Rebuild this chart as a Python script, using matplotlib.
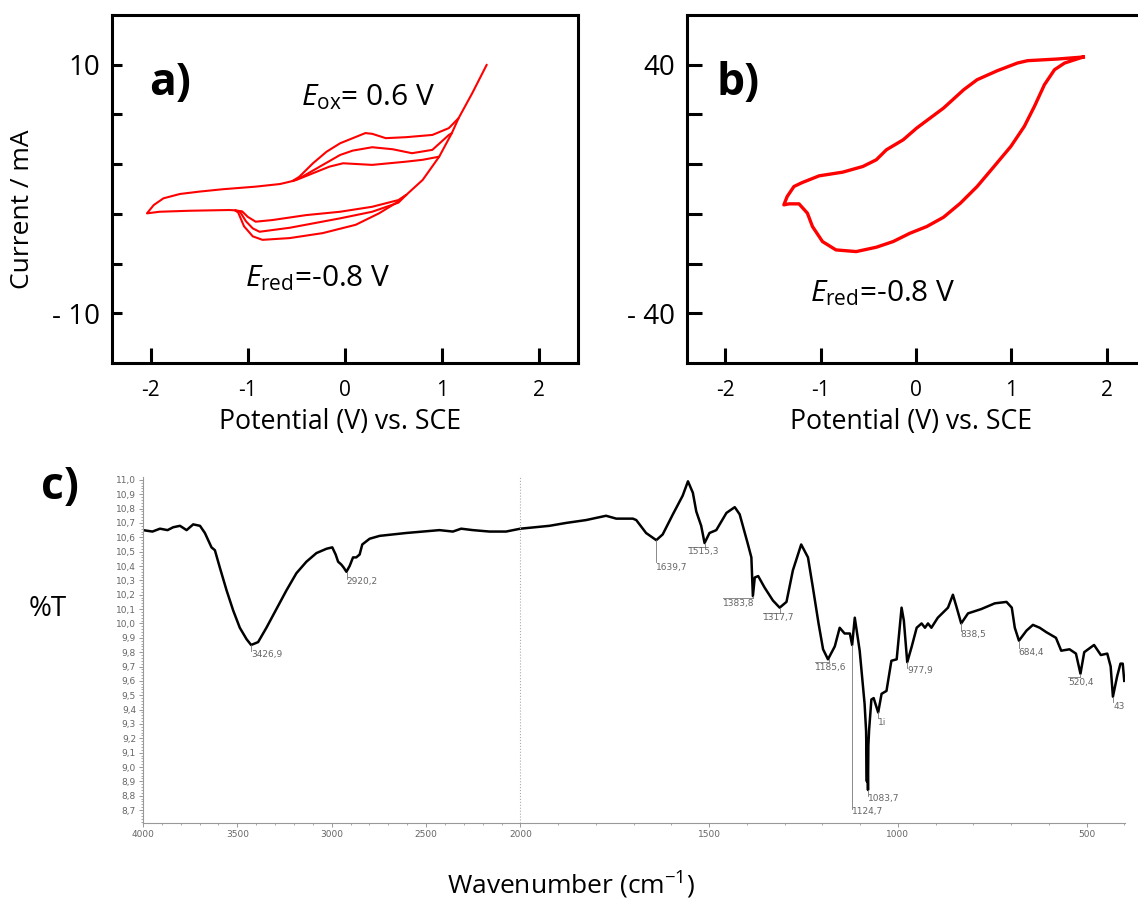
import matplotlib
matplotlib.use('Agg')
import matplotlib.pyplot as plt
import numpy as np
from matplotlib.ticker import FixedLocator

plt.rcParams['font.family'] = ['Open Sans', 'DejaVu Sans']
plt.rcParams['mathtext.fontset'] = 'custom'
plt.rcParams['mathtext.rm'] = 'Open Sans'
plt.rcParams['mathtext.it'] = 'Open Sans:italic'

# --- panel a: CV, three cycles (V, mA) ---
right_v = [0.63, 0.80, 0.97, 1.10, 1.17, 1.31, 1.46]
right_i = [-0.48, 0.73, 2.6, 4.49, 5.7, 7.7, 10.0]
up1_v = [1.17, 1.07, 0.90, 0.63, 0.42, 0.28, 0.21, 0.08, -0.05, -0.19, -0.33, -0.47, -0.54]
up1_i = [5.7, 4.9, 4.35, 4.17, 4.09, 4.44, 4.5, 4.09, 3.68, 3.0, 2.07, 0.99, 0.64]
up2_v = [1.10, 1.07, 0.90, 0.69, 0.49, 0.28, 0.08, -0.05, -0.26, -0.44, -0.54]
up2_i = [4.49, 4.35, 3.15, 2.88, 3.2, 3.36, 3.09, 2.74, 1.80, 0.99, 0.64]
up3_v = [0.97, 0.80, 0.63, 0.28, -0.02, -0.16, -0.33, -0.50, -0.54]
up3_i = [2.6, 2.35, 2.2, 1.94, 2.07, 1.80, 1.27, 0.73, 0.64]
left_v = [-0.54, -0.67, -0.92, -1.26, -1.50, -1.70, -1.87, -1.97, -2.04, -1.91, -1.60, -1.19, -1.13]
left_i = [0.64, 0.40, 0.19, -0.02, -0.21, -0.40, -0.75, -1.29, -1.96, -1.83, -1.75, -1.69, -1.72]
low1_v = [-1.13, -1.06, -1.00, -0.92, -0.75, -0.40, -0.05, 0.28, 0.55, 0.63]
low1_i = [-1.72, -1.80, -2.25, -2.63, -2.5, -2.1, -1.83, -1.43, -0.89, -0.48]
low2_v = [-1.13, -1.08, -1.02, -0.95, -0.88, -0.57, -0.05, 0.28, 0.55, 0.63]
low2_i = [-1.72, -1.85, -2.6, -3.17, -3.44, -3.12, -2.36, -1.83, -1.1, -0.48]
low3_v = [-1.13, -1.10, -1.04, -0.95, -0.85, -0.57, -0.23, 0.11, 0.35, 0.52, 0.63]
low3_i = [-1.72, -1.9, -3.0, -3.81, -4.09, -3.95, -3.55, -2.88, -1.96, -1.15, -0.48]

# --- panel b: CV, one cycle (V, mA) ---
b_v = [1.752, 1.487, 1.170, 1.064, 0.853, 0.641, 0.500, 0.289, 0.148, 0.007, -0.134, -0.310,
       -0.416, -0.557, -0.768, -1.015, -1.191, -1.279, -1.350, -1.385, -1.332, -1.226, -1.138,
       -1.085, -0.980, -0.839, -0.627, -0.416, -0.240, -0.063, 0.113, 0.289, 0.465, 0.641,
       0.818, 0.994, 1.135, 1.241, 1.346, 1.452, 1.558, 1.752]
b_i = [42.48, 41.84, 41.30, 40.55, 38.08, 35.18, 31.95, 26.05, 22.83, 19.60, 15.84, 12.62,
       9.40, 7.25, 5.42, 4.24, 2.09, 0.81, -2.42, -5.10, -4.78, -4.78, -7.79,
       -12.08, -16.92, -19.60, -20.14, -18.74, -16.92, -14.23, -12.08, -9.08, -4.57, 0.81,
       7.25, 13.70, 20.14, 26.58, 33.57, 38.40, 40.55, 42.48]

cv_xticks = [-2, -1, 0, 1, 2]
cv_xlabels = ['-2', '-1', '0', '1', '2']
a_yticks = [-10, -6, -2, 2, 6, 10]
a_ylabels = ['- 10', '', '', '', '', '10']
b_yticks = [-40, -24, -8, 8, 24, 40]
b_ylabels = ['- 40', '', '', '', '', '40']

# --- panel c: IR spectrum ---
ir_wn = [4000, 3950, 3910, 3870, 3840, 3804, 3769, 3734, 3698, 3672, 3637, 3619, 3593, 3557,
         3522, 3487, 3451, 3427, 3390, 3346, 3293, 3240, 3187, 3134, 3081, 3028, 2997, 2979,
         2966, 2949, 2937, 2922, 2905, 2887, 2870, 2852, 2838, 2799, 2746, 2605, 2517, 2429,
         2358, 2314, 2252, 2164, 2076, 2000, 1923, 1879, 1826, 1773, 1746, 1702, 1693, 1667,
         1640, 1623, 1596, 1570, 1556, 1543, 1534, 1521, 1512, 1499, 1481, 1454, 1432, 1419,
         1397, 1388, 1384, 1379, 1370, 1353, 1331, 1313, 1295, 1278, 1256, 1238, 1225, 1210,
         1198, 1185, 1167, 1154, 1141, 1127, 1121, 1114, 1101, 1088, 1084, 1082, 1081, 1079,
         1078, 1076, 1070, 1064, 1052, 1043, 1030, 1017, 1003, 990, 984, 975, 963, 950, 937,
         928, 920, 911, 894, 867, 854, 845, 832, 814, 779, 743, 712, 698, 690, 679, 659, 642,
         624, 607, 581, 567, 545, 528, 516, 506, 480, 462, 445, 436, 430, 419, 410, 404, 400]
ir_t = [10.65, 10.64, 10.66, 10.65, 10.67, 10.68, 10.65, 10.69, 10.68, 10.63, 10.53, 10.51, 10.39, 10.23,
        10.09, 9.97, 9.89, 9.85, 9.87, 9.97, 10.10, 10.23, 10.35, 10.43, 10.49, 10.52, 10.53, 10.48,
        10.43, 10.41, 10.39, 10.36, 10.40, 10.46, 10.46, 10.48, 10.55, 10.59, 10.61, 10.63, 10.64, 10.65,
        10.64, 10.66, 10.65, 10.64, 10.64, 10.66, 10.68, 10.70, 10.72, 10.75, 10.73, 10.73, 10.72, 10.63,
        10.58, 10.62, 10.76, 10.89, 10.99, 10.91, 10.78, 10.68, 10.56, 10.63, 10.65, 10.77, 10.81, 10.76,
        10.55, 10.46, 10.19, 10.32, 10.33, 10.25, 10.16, 10.11, 10.15, 10.37, 10.55, 10.46, 10.25, 10.0,
        9.82, 9.75, 9.84, 9.97, 9.93, 9.93, 9.85, 10.04, 9.81, 9.44, 9.25, 8.90, 9.20, 8.84,
        9.15, 9.26, 9.47, 9.48, 9.38, 9.51, 9.53, 9.74, 9.75, 10.11, 10.02, 9.73, 9.84, 9.97, 10.0,
        9.97, 10.0, 9.97, 10.04, 10.11, 10.20, 10.12, 10.0, 10.07, 10.10, 10.14, 10.15, 10.11, 9.97, 9.88, 9.95, 9.99,
        9.97, 9.94, 9.90, 9.81, 9.82, 9.79, 9.65, 9.80, 9.85, 9.78, 9.79, 9.70, 9.49, 9.63, 9.72, 9.72, 9.60]

ir_xticks = [4000, 3500, 3000, 2500, 2000, 1500, 1000, 500]
ir_xminor = list(range(4000, 399, -100))
ir_yticks = [round(8.7 + 0.1 * k, 1) for k in range(24)]

# peak labels: text, peak wn, peak %T, label wn, label %T, leader end %T, overline start wn
peaks = [
    ('3426,9', 3427, 9.85, 3427, 9.785, 9.81, None),
    ('2920,2', 2921, 10.36, 2921, 10.29, 10.31, None),
    ('1639,7', 1640, 10.58, 1640, 10.39, 10.43, None),
    ('1515,3', 1512, 10.56, 1556, 10.50, 10.535, 1556),
    ('1383,8', 1384, 10.19, 1462, 10.14, 10.18, 1462),
    ('1317,7', 1313, 10.11, 1357, 10.04, 10.07, 1357),
    ('1185,6', 1183, 9.75, 1220, 9.69, 9.73, 1220),
    ('1124,7', 1121, 9.85, 1121, 8.69, 8.71, None),
    ('1083,7', 1079, 8.84, 1079, 8.78, 8.80, None),
    ('1i', 1052, 9.38, 1052, 9.31, 9.34, None),
    ('977,9', 975, 9.73, 975, 9.67, 9.69, None),
    ('838,5', 832, 10.0, 834, 9.92, 9.95, None),
    ('684,4', 679, 9.88, 681, 9.80, 9.83, None),
    ('520,4', 516, 9.65, 548, 9.59, 9.63, 548),
    ('43', 430, 9.49, 428, 9.42, 9.45, None),
]

W, H = 1138, 901
fig = plt.figure(figsize=(W / 100, H / 100), dpi=100)
ax_a = fig.add_axes([112 / W, 1 - 363 / H, 466 / W, 348 / H])
ax_b = fig.add_axes([687 / W, 1 - 363 / H, 458 / W, 348 / H])
ax_c = fig.add_axes([143 / W, 1 - 823 / H, 982 / W, 346 / H])

red = '#ff0000'
for v, i in [(right_v, right_i), (up1_v, up1_i), (up2_v, up2_i), (up3_v, up3_i),
             (left_v, left_i), (low1_v, low1_i), (low2_v, low2_i), (low3_v, low3_i)]:
    ax_a.plot(v, i, color=red, lw=1.5, solid_capstyle='round', solid_joinstyle='round')
ax_b.plot(b_v, b_i, color=red, lw=2.4, solid_joinstyle='round')


def style_cv(ax, ylim, yticks, ylabels, ylen):
    ax.set_xlim(-2.4, 2.4)
    ax.set_ylim(*ylim)
    ax.set_xticks(cv_xticks)
    ax.set_xticklabels(cv_xlabels)
    ax.set_yticks(yticks)
    ax.set_yticklabels(ylabels)
    for s in ax.spines.values():
        s.set_linewidth(2.2)
    ax.tick_params(axis='x', direction='in', length=11, width=2.2, pad=12.5, labelsize=15)
    ax.tick_params(axis='y', direction='in', length=ylen, width=2.2, pad=8.5, labelsize=20)
    ax.set_xlabel('Potential (V) vs. SCE', fontsize=19.2)
    ax.xaxis.set_label_coords(0.489, -0.13)


style_cv(ax_a, (-14, 14), a_yticks, a_ylabels, 7)
style_cv(ax_b, (-56, 56), b_yticks, b_ylabels, 11)
ax_a.set_ylabel('Current / mA', fontsize=19)
ax_a.yaxis.set_label_coords(-0.165, 0.4425)

ax_a.text(-2.02, 8.5, 'a)', fontsize=32, fontweight='bold', va='center')
ax_a.text(-0.45, 7.4, r'$\mathit{E}_{\mathrm{ox}}$= 0.6 V', fontsize=21.5, va='center')
ax_a.text(-1.03, -7.2, r'$\mathit{E}_{\mathrm{red}}$=-0.8 V', fontsize=21.5, va='center')
ax_b.text(-2.09, 33.9, 'b)', fontsize=32, fontweight='bold', va='center')
ax_b.text(-1.11, -33.5, r'$\mathit{E}_{\mathrm{red}}$=-0.8 V', fontsize=21.5, va='center')


# IR axis: 4000-2000 compressed, 2000-400 expanded x2
def fwd(x):
    x = np.asarray(x, dtype=float)
    return np.where(x >= 2000, x - 2000, 2 * (x - 2000))


def inv(u):
    u = np.asarray(u, dtype=float)
    return np.where(u >= 0, u + 2000, u / 2 + 2000)


grey = '#777777'
small = ['DejaVu Sans']
ax_c.set_xscale('function', functions=(fwd, inv))
ax_c.plot(ir_wn, ir_t, color='black', lw=1.8, solid_joinstyle='round')
ax_c.set_xlim(4000, 398)
ax_c.set_ylim(8.61, 11.02)
ax_c.axvline(2000, color='#aaaaaa', lw=0.8, ls=':')
ax_c.xaxis.set_major_locator(FixedLocator(ir_xticks))
ax_c.set_xticklabels([str(t) for t in ir_xticks], family=small)
ax_c.xaxis.set_minor_locator(FixedLocator(ir_xminor))
ax_c.yaxis.set_major_locator(FixedLocator(ir_yticks))
ax_c.set_yticklabels([f'{t:.1f}'.replace('.', ',') for t in ir_yticks], family=small)
ax_c.yaxis.set_minor_locator(FixedLocator([8.62 + 0.02 * k for k in range(120)]))
for s in ['top', 'right']:
    ax_c.spines[s].set_visible(False)
for s in ['left', 'bottom']:
    ax_c.spines[s].set_color('#999999')
    ax_c.spines[s].set_linewidth(0.8)
ax_c.tick_params(which='major', direction='out', length=3, width=0.7, color='#999999',
                 labelsize=6.5, labelcolor='#666666', pad=2)
ax_c.tick_params(which='minor', direction='out', length=1.5, width=0.6, color='#999999')

for txt, pw, pt, lw_, lt, le, ow in peaks:
    ax_c.plot([pw, pw], [pt, le], color=grey, lw=0.6)
    if ow is not None:
        ax_c.plot([pw, ow], [le, le], color=grey, lw=0.6)
    ax_c.text(lw_, lt, txt, fontsize=6.5, family=small, color='#666666', ha='left', va='center')

fig.text(60 / W, 1 - 487 / H, 'c)', fontsize=32, fontweight='bold', ha='center', va='center')
fig.text(48 / W, 1 - 609 / H, '%T', fontsize=20, ha='center', va='center')
fig.text(571 / W, 1 - 885 / H, 'Wavenumber (cm$^{-1}$)', fontsize=19, ha='center', va='center')

fig.savefig('out.png', dpi=100)
